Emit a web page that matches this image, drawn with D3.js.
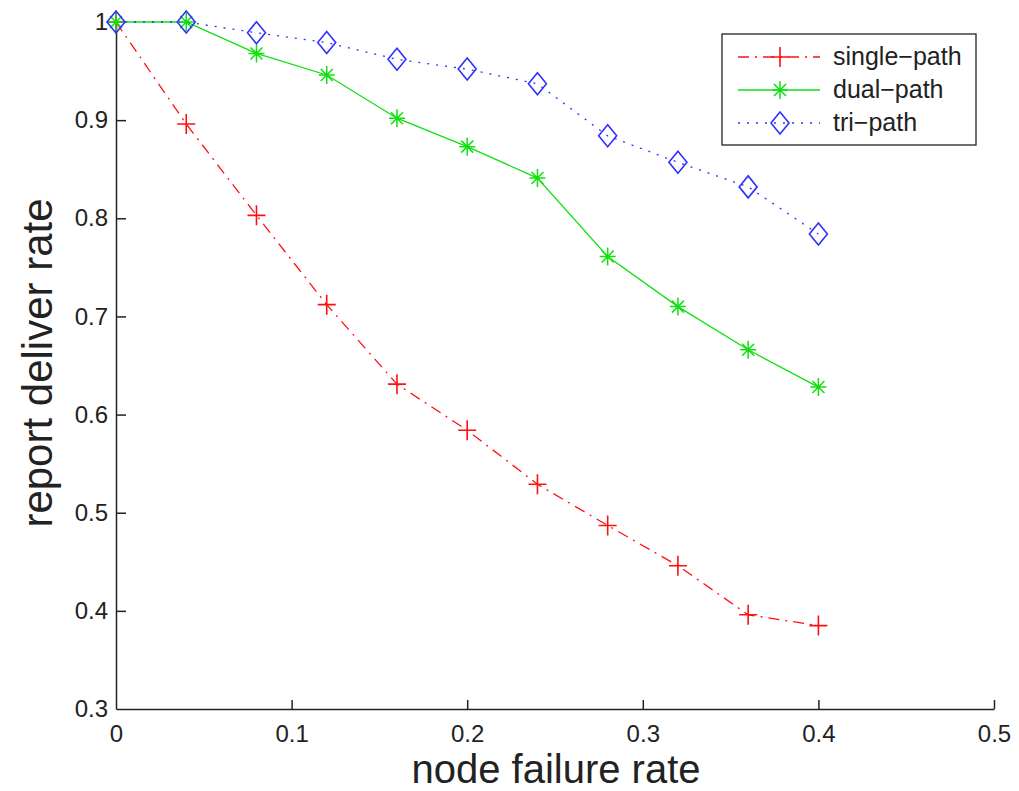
<!DOCTYPE html>
<html>
<head>
<meta charset="utf-8">
<script src="https://cdn.jsdelivr.net/npm/d3@7"></script>
<style>
  body { margin: 0; background: #fff; }
  text { font-family: "Liberation Sans", Arial, sans-serif; fill: #222; }
</style>
</head>
<body>
<div id="chart"></div>
<script>
// Data
const failureRate = [0, 0.04, 0.08, 0.12, 0.16, 0.2, 0.24, 0.28, 0.32, 0.36, 0.4];
const singlePath = [1.0, 0.896, 0.803, 0.712, 0.631, 0.584, 0.529, 0.487, 0.446, 0.396, 0.385];
const dualPath = [1.0, 1.0, 0.968, 0.946, 0.902, 0.873, 0.841, 0.761, 0.710, 0.666, 0.628];
const triPath = [1.0, 1.0, 0.989, 0.979, 0.962, 0.952, 0.937, 0.884, 0.857, 0.832, 0.784];
const xTicks = [0, 0.1, 0.2, 0.3, 0.4, 0.5];
const yTicks = [0.3, 0.4, 0.5, 0.6, 0.7, 0.8, 0.9, 1];

const series = [
    { name: 'single-path', values: singlePath, color: '#ff1010', dash: '11,6,2,6', marker: 'plus' },
    { name: 'dual-path', values: dualPath, color: '#10e010', dash: null, marker: 'star' },
    { name: 'tri-path', values: triPath, color: '#3030ff', dash: '2,7', marker: 'diamond' },
];

// Dimension
const width = 1019, height = 791;
const margin = { left: 116, right: 25, top: 22, bottom: 82 };

const svg = d3.select('#chart')
    .append('svg')
    .attr('width', width)
    .attr('height', height);

const xScale = d3.scaleLinear()
    .domain([0, 0.5])
    .range([margin.left, width - margin.right]);

const yScale = d3.scaleLinear()
    .domain([0.3, 1])
    .range([height - margin.bottom, margin.top]);

// Axis
const xAxis = d3.axisBottom(xScale)
    .tickValues(xTicks)
    .tickFormat(d => d === 0 ? '0' : d3.format('.1f')(d))
    .tickSizeInner(-9)
    .tickSizeOuter(0)
    .tickPadding(16);
const xAxisGroup = svg.append('g')
    .attr('transform', `translate(0, ${yScale(0.3)})`)
    .call(xAxis);

const yAxis = d3.axisLeft(yScale)
    .tickValues(yTicks)
    .tickFormat(d => d === 1 ? '1' : d3.format('.1f')(d))
    .tickSizeInner(-10)
    .tickSizeOuter(0)
    .tickPadding(8);
const yAxisGroup = svg.append('g')
    .attr('transform', `translate(${xScale(0)}, 0)`)
    .call(yAxis);

[xAxisGroup, yAxisGroup].forEach(g => {
    g.select('.domain').attr('stroke', '#222').attr('stroke-width', 1.5);
    g.selectAll('.tick line').attr('stroke', '#222').attr('stroke-width', 1.5);
    g.selectAll('.tick text').attr('font-size', 24).attr('fill', '#222')
        .style('font-family', '"Liberation Sans", Arial, sans-serif');
});
// the 0.3 and 1 tick marks sit on the axes, hide them
yAxisGroup.selectAll('.tick').filter(d => d === 0.3 || d === 1).select('line').remove();
xAxisGroup.selectAll('.tick').filter(d => d === 0).select('line').remove();

// Axis labels
svg.append('text')
    .attr('x', 556)
    .attr('y', 783)
    .attr('text-anchor', 'middle')
    .attr('font-size', 40)
    .text('node failure rate');

svg.append('text')
    .attr('transform', `translate(52, 363) rotate(-90)`)
    .attr('text-anchor', 'middle')
    .attr('font-size', 42)
    .text('report deliver rate');

// Markers
function drawMarker(g, type, color) {
    if (type === 'plus') {
        g.append('path').attr('d', 'M-9,0H9M0,-10V10')
            .attr('stroke', color).attr('stroke-width', 1.6).attr('fill', 'none');
    } else if (type === 'star') {
        g.append('path').attr('d', 'M-8,0H8M0,-9V9M-6,-6L6,6M-6,6L6,-6')
            .attr('stroke', color).attr('stroke-width', 1.5).attr('fill', 'none');
    } else {
        g.append('path').attr('d', 'M0,-11L9,0L0,11L-9,0Z')
            .attr('stroke', color).attr('stroke-width', 1.6).attr('fill', 'none');
    }
}

const line = d3.line()
    .x(d => xScale(d[0]))
    .y(d => yScale(d[1]));

series.forEach(s => {
    const pts = failureRate.map((x, i) => [x, s.values[i]]);
    svg.append('path')
        .datum(pts)
        .attr('d', line)
        .attr('fill', 'none')
        .attr('stroke', s.color)
        .attr('stroke-width', 1.3)
        .attr('stroke-dasharray', s.dash);
});

// draw markers after lines so tri-path diamonds sit on top
series.forEach(s => {
    svg.append('g').selectAll('g')
        .data(failureRate.map((x, i) => [x, s.values[i]]))
        .join('g')
        .attr('transform', d => `translate(${xScale(d[0])}, ${yScale(d[1])})`)
        .each(function () { drawMarker(d3.select(this), s.marker, s.color); });
});

// Legend
const legend = svg.append('g').attr('transform', 'translate(722, 34)');
legend.append('rect')
    .attr('width', 254).attr('height', 111)
    .attr('fill', '#fff').attr('stroke', '#222').attr('stroke-width', 1.3);

series.forEach((s, i) => {
    const row = legend.append('g').attr('transform', `translate(0, ${23 + i * 33})`);
    row.append('line')
        .attr('x1', 16).attr('x2', 98)
        .attr('stroke', s.color).attr('stroke-width', 1.3)
        .attr('stroke-dasharray', s.dash);
    const m = row.append('g').attr('transform', 'translate(58, 0)');
    drawMarker(m, s.marker, s.color);
    row.append('text')
        .attr('x', 111).attr('y', 8)
        .attr('font-size', 25)
        .text(s.name.replace('-', '\u2212'));
});
</script>
</body>
</html>
